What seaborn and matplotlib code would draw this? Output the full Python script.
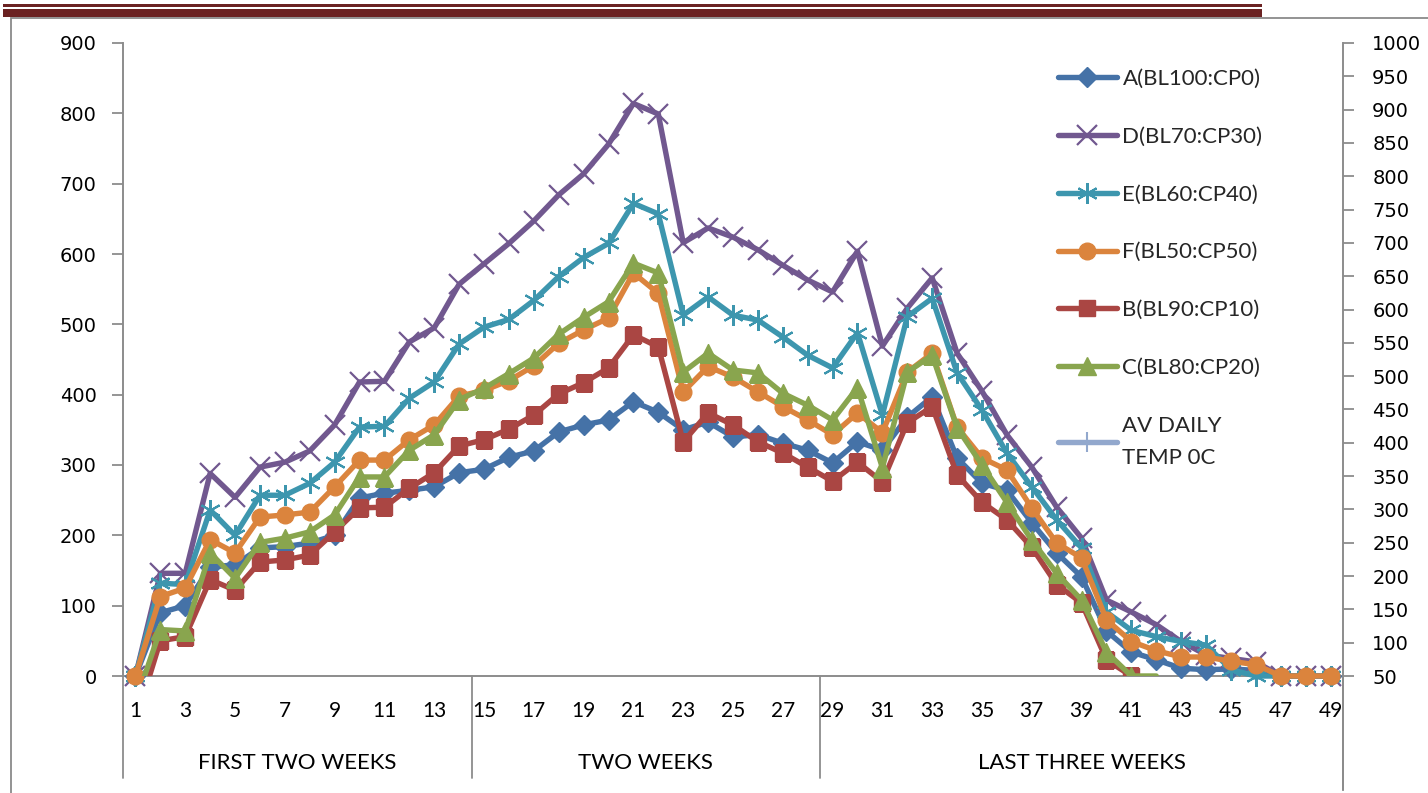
import numpy as np
import matplotlib
matplotlib.use("Agg")
import matplotlib.pyplot as plt
from matplotlib.lines import Line2D
from matplotlib.patches import Rectangle, Polygon
import seaborn as sns

nan = np.nan

# ---- data -----------------------------------------------------------------
days = list(range(1, 50))

a_bl100_cp0 = [0, 90, 100, 155, 158, 182, 184, 189, 200, 253,
               260, 264, 269, 289, 294, 311, 320, 347, 357, 364,
               390, 375, 350, 361, 340, 343, 331, 321, 303, 333,
               321, 368, 397, 310, 274, 264, 218, 175, 141, 64,
               34, 23, 11, 9, 10, 8, 0, 0, 0]

d_bl70_cp30 = [0, 146, 146, 288, 254, 297, 304, 320, 357, 418,
               419, 475, 495, 557, 586, 615, 647, 684, 714, 756,
               814, 799, 616, 637, 624, 606, 584, 563, 546, 604,
               469, 523, 566, 459, 405, 343, 297, 240, 196, 108,
               91, 73, 49, 30, 25, 20, 0, 0, 0]

e_bl60_cp40 = [0, 132, 130, 236, 200, 257, 257, 274, 304, 354,
               355, 395, 418, 472, 496, 507, 534, 568, 595, 615,
               672, 657, 513, 539, 513, 506, 482, 456, 438, 488,
               371, 511, 537, 431, 378, 317, 269, 222, 182, 91,
               65, 56, 49, 44, 9, 0, 0, 0, 0]

f_bl50_cp50 = [0, 113, 125, 194, 175, 226, 229, 233, 269, 307,
               307, 336, 357, 398, 406, 420, 441, 473, 492, 509,
               573, 544, 404, 440, 425, 404, 383, 364, 343, 374,
               346, 432, 459, 354, 310, 293, 239, 189, 168, 80,
               49, 36, 27, 27, 21, 16, 0, 0, 0]

b_bl90_cp10 = [-65, 50, 56, 137, 122, 162, 165, 172, 205, 239,
               240, 267, 289, 327, 336, 351, 371, 401, 417, 438,
               485, 468, 333, 374, 357, 333, 317, 297, 277, 304,
               276, 360, 383, 286, 247, 222, 183, 130, 104, 23,
               0, nan, nan, nan, nan, nan, nan, nan, nan]

c_bl80_cp20 = [-38, 66, 64, 175, 139, 190, 196, 205, 229, 283,
               283, 321, 343, 393, 409, 430, 452, 486, 510, 532,
               587, 573, 432, 459, 435, 431, 402, 385, 364, 410,
               296, 432, 456, 353, 300, 247, 193, 146, 108, 34,
               0, 0, nan, nan, nan, nan, nan, nan, nan]

series_names = ["A(BL100:CP0)", "D(BL70:CP30)", "E(BL60:CP40)",
                "F(BL50:CP50)", "B(BL90:CP10)", "C(BL80:CP20)"]
series_values = [a_bl100_cp0, d_bl70_cp30, e_bl60_cp40,
                 f_bl50_cp50, b_bl90_cp10, c_bl80_cp20]
temp_name = "AV DAILY\nTEMP 0C"

x_ticks = list(range(1, 50, 2))
left_ticks = list(range(0, 901, 100))
right_ticks = list(range(50, 1001, 50))
groups = [("FIRST TWO WEEKS", 0.5, 14.5),
          ("TWO WEEKS", 14.5, 28.5),
          ("LAST THREE WEEKS", 28.5, 49.5)]

# ---- styles ---------------------------------------------------------------
styles = [
    dict(color="#4572A7", marker="D", markersize=10, mew=1.0),
    dict(color="#71588F", marker="x", markersize=14, mew=1.6),
    dict(color="#3D96AE", marker=(6, 2, 0), markersize=15, mew=1.5),
    dict(color="#DB843D", marker="o", markersize=12, mew=1.0),
    dict(color="#AA4643", marker="s", markersize=11, mew=1.0),
    dict(color="#89A54E", marker="^", markersize=13, mew=1.0),
]
temp_style = dict(color="#92A8CD", marker="+", markersize=14, mew=1.5)
line_w = 3.9
axis_grey = "#8C8C8C"

sns.set_theme(style="white")
plt.rcParams["font.family"] = ["Lato", "DejaVu Sans"]

W, H = 1428, 793
fig = plt.figure(figsize=(W / 100, H / 100), dpi=100)
fig.patch.set_facecolor("white")

# page furniture: heading bars and chart frame
bar_col = "#6B2222"
fig.patches.append(Rectangle((3 / W, 1 - 6.5 / H), 1259 / W, 2.5 / H,
                             transform=fig.transFigure, color=bar_col, lw=0))
fig.patches.append(Rectangle((3 / W, 1 - 17 / H), 1259 / W, 8 / H,
                             transform=fig.transFigure, color=bar_col, lw=0))
fig.patches.append(Rectangle((10.5 / W, -0.05), 1.2, 1 - 18 / H + 0.05,
                             transform=fig.transFigure, fill=False,
                             edgecolor="#8A8A8A", lw=1.3))

x0, x1, y_top, y_bot = 123, 1343, 43, 676
ax = fig.add_axes([x0 / W, 1 - y_bot / H, (x1 - x0) / W, (y_bot - y_top) / H])
ax.set_facecolor("none")
ax.set_xlim(0.5, 49.5)
ax.set_ylim(0, 900)

# values below the axis minimum are cut off at the axis near the start,
# while markers sitting on the zero line elsewhere may overhang it
clip_poly = Polygon([(-5, 0), (1.5, 0), (1.5, -60), (60, -60),
                     (60, 1100), (-5, 1100)], closed=True,
                    transform=ax.transData, visible=False)
ax.add_patch(clip_poly)

for name, vals, st in zip(series_names, series_values, styles):
    arr = np.array(vals, dtype=float)
    n_valid = int(np.sum(~np.isnan(arr)))
    extra = {}
    if name.startswith("C("):
        extra["markevery"] = list(range(n_valid - 1))
    sns.lineplot(x=days, y=vals, ax=ax, color=st["color"], linewidth=line_w,
                 marker=st["marker"], markersize=st["markersize"],
                 markeredgecolor=st["color"], markerfacecolor=st["color"],
                 markeredgewidth=st["mew"], estimator=None, sort=False,
                 legend=False, zorder=3, **extra)
    line = ax.lines[-1]
    if np.nanmin(arr) < 0:
        line.set_clip_on(True)
        line.set_clip_path(clip_poly)
    else:
        line.set_clip_on(False)

ax.set_xlim(0.5, 49.5)
ax.set_ylim(0, 900)
ax.set_yticks(left_ticks)
ax.set_xticks(x_ticks)
ax.set_xticklabels([str(v) for v in x_ticks])
ax.set_xlabel("")
ax.set_ylabel("")
ax.grid(False)

for s in ["top", "right"]:
    ax.spines[s].set_visible(False)
for s in ["left", "bottom"]:
    ax.spines[s].set_color(axis_grey)
    ax.spines[s].set_linewidth(1.4)

ax.tick_params(axis="y", direction="out", length=8, width=1.3,
               color=axis_grey, pad=11, labelsize=14, labelcolor="black")
ax.tick_params(axis="x", length=0, pad=18, labelsize=15, labelcolor="black")
for lab in ax.get_yticklabels():
    lab.set_fontfamily("DejaVu Sans")

# category group separators and labels under the axis
xt = ax.get_xaxis_transform()
for bx, depth in [(0.5, 102), (14.5, 102), (28.5, 102), (49.5, 114)]:
    ax.plot([bx, bx], [0, -depth / (y_bot - y_top)], transform=xt,
            color=axis_grey, lw=1.3, clip_on=False, zorder=1)
for label, g0, g1 in groups:
    ax.text((g0 + g1) / 2, -(763 - y_bot) / (y_bot - y_top), label,
            transform=xt, ha="center", va="center", fontsize=16,
            color="black")

# secondary scale on the right
ax2 = ax.twinx()
ax2.set_ylim(50, 1000)
ax2.set_yticks(right_ticks)
ax2.grid(False)
for s in ["top", "left", "bottom"]:
    ax2.spines[s].set_visible(False)
ax2.spines["right"].set_color(axis_grey)
ax2.spines["right"].set_linewidth(1.4)
ax2.spines["right"].set_bounds(50, 1000)
ax2.plot([1, 1], [0, -(790 - y_bot) / (y_bot - y_top)],
         transform=ax2.transAxes, color=axis_grey, lw=1.4, clip_on=False)
ax2.tick_params(axis="y", direction="out", length=8, width=1.3,
                color=axis_grey, pad=13, labelsize=14, labelcolor="black")
for lab in ax2.get_yticklabels():
    lab.set_fontfamily("DejaVu Sans")

# legend
handles = [Line2D([], [], color=st["color"], lw=line_w, marker=st["marker"],
                  markersize=st["markersize"], markeredgecolor=st["color"],
                  markerfacecolor=st["color"], markeredgewidth=st["mew"])
           for st in styles]
handles.append(Line2D([], [], color=temp_style["color"], lw=line_w,
                      marker=temp_style["marker"],
                      markersize=temp_style["markersize"],
                      markeredgecolor=temp_style["color"],
                      markeredgewidth=temp_style["mew"]))
labels = series_names + [temp_name]
leg = ax2.legend(handles, labels, loc="upper left",
                 bbox_to_anchor=((1058 - x0) / (x1 - x0), 1 - (69 - y_top) / (y_bot - y_top)),
                 frameon=False, fontsize=16, numpoints=1, handlelength=2.65,
                 handletextpad=0.25, labelspacing=1.7, borderaxespad=0,
                 borderpad=0)
for t in leg.get_texts():
    t.set_linespacing(1.78)

fig.savefig("out.png", dpi=100, facecolor="white")
